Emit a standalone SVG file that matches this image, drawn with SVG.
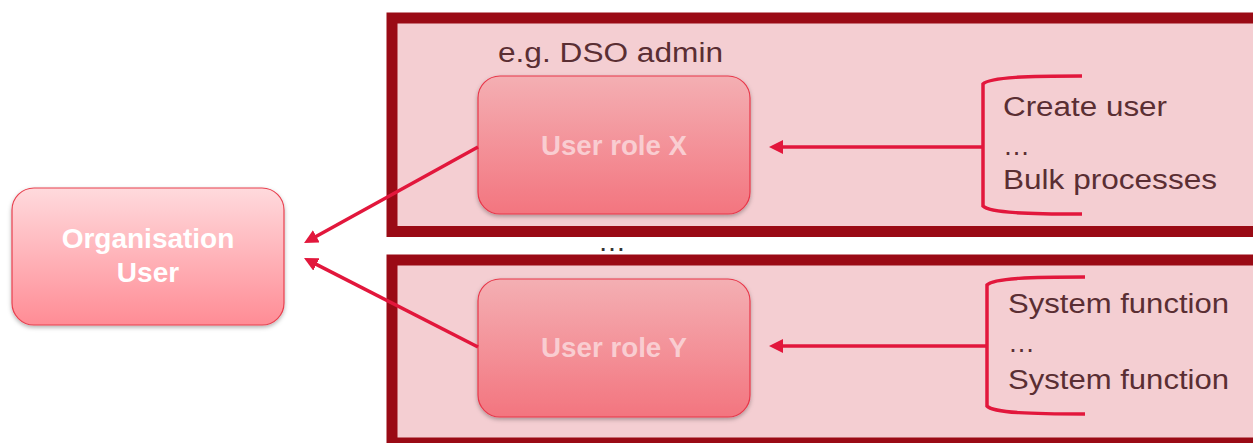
<svg xmlns="http://www.w3.org/2000/svg" width="1253" height="443" viewBox="0 0 1253 443">
<style>
.frame{fill:#F4CED2;stroke:#9A0A15;stroke-width:11}
.role{stroke:#E8374A;stroke-width:1.2;filter:url(#sh)}
.org{stroke:#E8404F;stroke-width:1.2;filter:url(#sh)}
.bt{font-family:"Liberation Sans",Arial,sans-serif;font-weight:bold;font-size:28px;text-anchor:middle}
.rt{font-family:"Liberation Sans",Arial,sans-serif;font-size:27px;fill:#5A2E33}
.conn{stroke:#E2173C;stroke-width:3.5;fill:none}
</style>
<defs>
<linearGradient id="gOrg" x1="0" y1="0" x2="0" y2="1"><stop offset="0" stop-color="#FFDADD"/><stop offset="1" stop-color="#FF8C95"/></linearGradient>
<linearGradient id="gRole" x1="0" y1="0" x2="0" y2="1"><stop offset="0" stop-color="#F4AFB3"/><stop offset="1" stop-color="#F3757F"/></linearGradient>
<filter id="sh" x="-10%" y="-10%" width="120%" height="130%"><feDropShadow dx="0" dy="2" stdDeviation="2" flood-color="#000" flood-opacity="0.3"/></filter>
<marker id="ah" viewBox="0 0 14 14" refX="4" refY="7" markerWidth="14" markerHeight="14" markerUnits="userSpaceOnUse" orient="auto"><path d="M0,0 L14,7 L0,14 z" fill="#E2173C"/></marker>
</defs>
<g id="frameX"><rect class="frame" x="392" y="18" width="880" height="213.5"/></g>
<g id="frameY"><rect class="frame" x="392" y="260" width="880" height="183"/></g>
<g id="label-dso"><text class="rt" x="498" y="62" textLength="225" lengthAdjust="spacingAndGlyphs">e.g. DSO admin</text></g>
<g id="dots-mid"><text x="612" y="251" font-family="Liberation Sans,Arial,sans-serif" font-size="28" fill="#333" text-anchor="middle">…</text></g>
<g id="org-user">
<rect class="org" x="12" y="188" width="272" height="137" rx="22" fill="url(#gOrg)"/>
<text class="bt" x="148" y="248" fill="#FFFFFF">Organisation</text>
<text class="bt" x="148" y="282" fill="#FFFFFF">User</text>
</g>
<g id="role-x">
<rect class="role" x="478" y="76" width="272" height="138" rx="22" fill="url(#gRole)"/>
<text class="bt" x="614" y="155" fill="#F9CDD1" textLength="146" lengthAdjust="spacingAndGlyphs">User role X</text>
</g>
<g id="role-y">
<rect class="role" x="478" y="279" width="272" height="138" rx="22" fill="url(#gRole)"/>
<text class="bt" x="614" y="357" fill="#F9CDD1" textLength="146" lengthAdjust="spacingAndGlyphs">User role Y</text>
</g>
<g id="funcs-x">
<text class="rt" x="1003" y="116" textLength="164" lengthAdjust="spacingAndGlyphs">Create user</text>
<text class="rt" x="1003" y="155">…</text>
<text class="rt" x="1003" y="189" textLength="214" lengthAdjust="spacingAndGlyphs">Bulk processes</text>
</g>
<g id="funcs-y">
<text class="rt" x="1008" y="313" textLength="221" lengthAdjust="spacingAndGlyphs">System function</text>
<text class="rt" x="1008" y="352">…</text>
<text class="rt" x="1008" y="389" textLength="221" lengthAdjust="spacingAndGlyphs">System function</text>
</g>
<g id="connectors">
<path class="conn" d="M1082,76 C1030,76 990,77 983,84 L983,206 C990,213 1030,214 1082,214"/>
<path class="conn" d="M1085,277 C1033,277 993,278 987,285 L987,406 C993,413 1033,414 1085,414"/>
<line class="conn" x1="983" y1="147" x2="779" y2="147" marker-end="url(#ah)"/>
<line class="conn" x1="987" y1="346" x2="779" y2="346" marker-end="url(#ah)"/>
<line class="conn" x1="478" y1="147" x2="312.8" y2="238.2" marker-end="url(#ah)"/>
<line class="conn" x1="478" y1="347" x2="312.9" y2="262.6" marker-end="url(#ah)"/>
</g>
</svg>
